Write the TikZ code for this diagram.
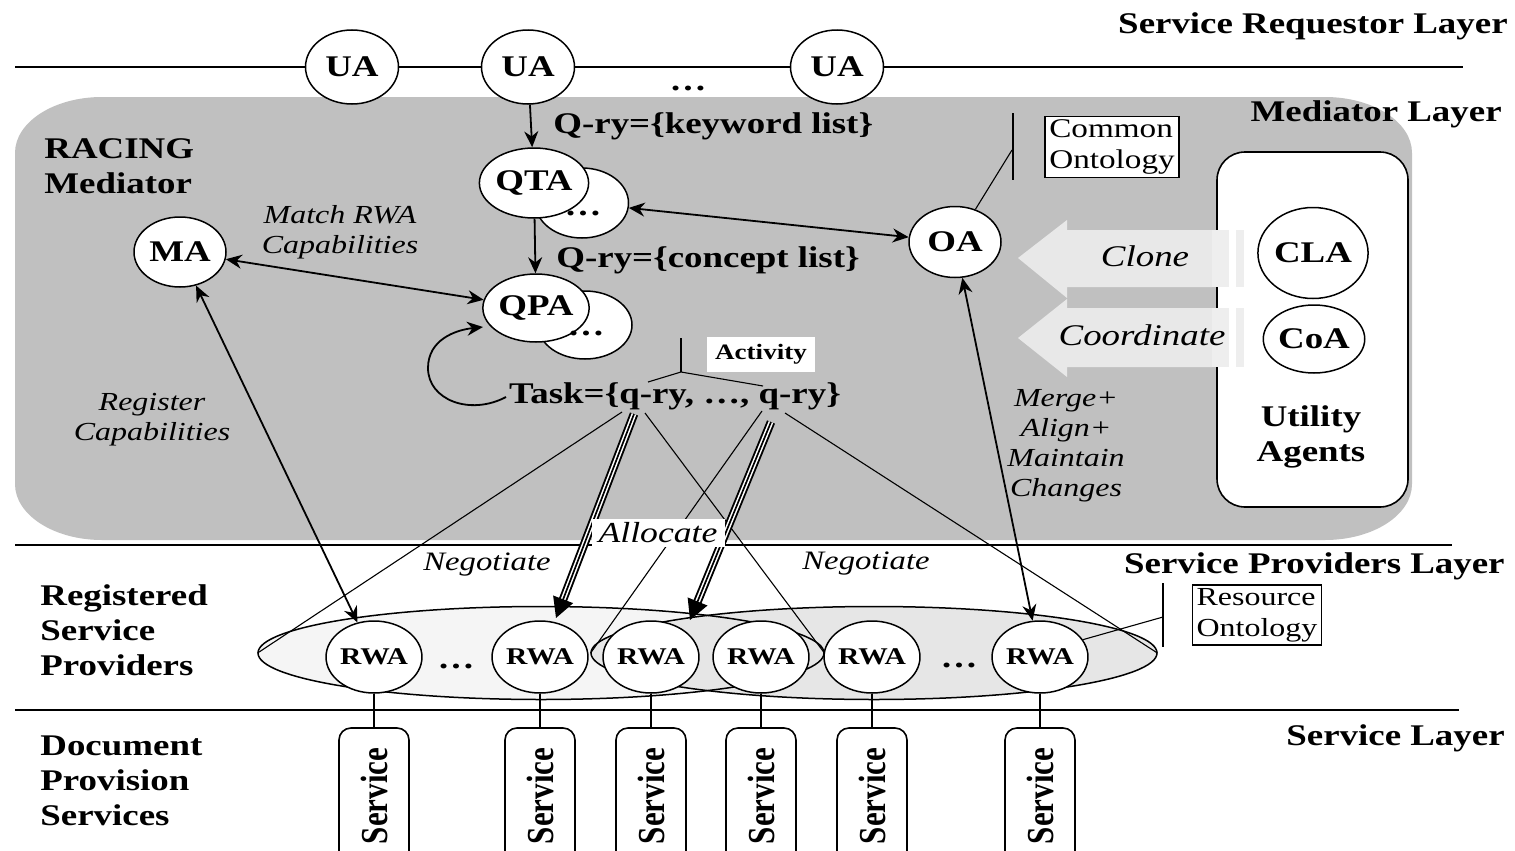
\documentclass[tikz,border=0pt]{standalone}
\usepackage{graphicx}
\usepackage{fontspec}
\setmainfont{Liberation Serif}[FakeStretch=1.23]
\newfontfamily\plainserif{Liberation Serif}
\usetikzlibrary{shapes.geometric,arrows.meta,calc}
\newcommand\setfs[2]{\fontsize{#1}{#2}\selectfont}
\definecolor{medgray}{HTML}{C0C0C0}
\definecolor{bigarrow}{HTML}{E8E8E8}
\definecolor{arrowband}{HTML}{EEEEEE}
\definecolor{grpleft}{HTML}{F5F5F5}
\definecolor{grpright}{HTML}{E6E6E6}

\begin{document}
\begin{tikzpicture}[x=0.5pt,y=-0.5pt,
  agent/.style={ellipse,draw,fill=white,line width=0.75pt,inner sep=0pt,
    font={\bfseries\setfs{15pt}{17pt}}},
  rwa/.style={agent,minimum width=46pt,minimum height=36pt,
    font={\bfseries\setfs{12pt}{14pt}}},
  rule/.style={line width=1pt},
  link/.style={line width=0.9pt},
  biarrow/.style={link,{Stealth[length=8pt,width=7pt]}-{Stealth[length=8pt,width=7pt]}},
  uniarrow/.style={link,-{Stealth[length=8pt,width=7pt]}},
  thinline/.style={line width=0.55pt},
  boldlabel/.style={font={\bfseries\setfs{15pt}{17.5pt}},inner sep=0pt,align=left},
  itlabel/.style={font={\itshape\setfs{13pt}{15pt}},inner sep=0pt,align=center},
  dots/.style={font={\bfseries\setfs{15pt}{17pt}},inner sep=0pt,anchor=base},
  svcbox/.style={draw,fill=white,rounded corners=6pt,line width=0.8pt,
    minimum width=35pt,minimum height=68pt,inner sep=0pt},
  ontobox/.style={draw,fill=white,line width=0.8pt,align=left,inner xsep=2pt,inner ysep=1.5pt,
    font={\setfs{13.5pt}{15.5pt}}},
  allocouter/.style={line width=0.95pt,double=white,double distance=2.4pt,shorten >=9pt},
  allocinner/.style={line width=0.85pt,-{Triangle[length=10pt,width=10.5pt]}}
]
\useasboundingbox (0,0) rectangle (1515,851);
\clip (0,0) rectangle (1515,851);
\fill[white] (0,0) rectangle (1515,851);

% ---------- mediator panel ----------
\fill[medgray] (102,97) -- (1325,97) .. controls (1373,97) and (1412,122) .. (1412,153)
  -- (1412,484) .. controls (1412,515) and (1373,540) .. (1325,540)
  -- (102,540) .. controls (54,540) and (15,515) .. (15,484)
  -- (15,153) .. controls (15,122) and (54,97) .. (102,97) -- cycle;

% ---------- layer rules ----------
\coordinate (ruleA1) at (15,67);  \coordinate (ruleA2) at (1463,67);
\coordinate (ruleB1) at (15,545); \coordinate (ruleB2) at (1452,545);
\coordinate (ruleC1) at (15,710); \coordinate (ruleC2) at (1459,710);
\draw[rule] (ruleA1) -- (ruleA2);
\draw[rule] (ruleB1) -- (ruleB2);
\draw[rule] (ruleC1) -- (ruleC2);

% ---------- layer titles ----------
\node[boldlabel,anchor=base east] (tReq) at (1508,33) {Service Requestor Layer};
\node[boldlabel,anchor=base east] (tMed) at (1502,121) {Mediator Layer};
\node[boldlabel,anchor=base east] (tProv) at (1505,573) {Service Providers Layer};
\node[boldlabel,anchor=base east] (tSvc) at (1505,745) {Service Layer};
\node[boldlabel,anchor=west] (tRacing) at (44,166) {RACING\\Mediator};
\node[boldlabel,anchor=west] (tReg) at (40,630) {Registered\\Service\\Providers};
\node[boldlabel,anchor=west] (tDoc) at (40,781) {Document\\Provision\\Services};

% ---------- utility agents ----------
\node[draw,fill=white,rounded corners=14pt,line width=0.8pt,minimum width=95.5pt,
  minimum height=177.5pt] (util) at (1312.5,329.5) {};
\node[boldlabel,align=center,anchor=center] (utilTxt) at (1311,437) {Utility\\Agents};

% clone / coordinate block arrows
\fill[bigarrow] (1018,258) -- (1067,220) -- (1067,230) -- (1212,230) -- (1212,287)
  -- (1067,287) -- (1067,298) -- cycle;
\fill[arrowband] (1212,230) rectangle (1229,287);
\fill[arrowband] (1236,230) rectangle (1244,287);
\fill[bigarrow] (1018,338) -- (1067,299) -- (1067,308) -- (1212,308) -- (1212,367)
  -- (1067,367) -- (1067,377) -- cycle;
\fill[arrowband] (1212,308) rectangle (1229,367);
\fill[arrowband] (1236,308) rectangle (1244,367);
\node[font={\itshape\setfs{15pt}{17pt}},inner sep=0pt,anchor=base] (lClone) at (1145,266) {Clone};
\node[font={\itshape\setfs{15pt}{17pt}},inner sep=0pt,anchor=base] (lCoord) at (1142,345) {Coordinate};

\node[agent,minimum width=55pt,minimum height=45.5pt] (cla) at (1313,253) {CLA};
\node[agent,minimum width=45.5pt,minimum height=34pt] (coa) at (1314,339) {CoA};

% ---------- requestor agents ----------
\node[agent,minimum width=46.5pt,minimum height=37pt] (ua1) at (352,67) {UA};
\node[agent,minimum width=46.5pt,minimum height=37pt] (ua2) at (528,67) {UA};
\node[agent,minimum width=46.5pt,minimum height=37pt] (ua3) at (837,67) {UA};
\node[dots] (uadots) at (688,90) {\dots};

% ---------- mediator agents ----------
\node[agent,minimum width=46.5pt,minimum height=35pt] (qtab) at (582,203) {};
\node[agent,minimum width=46pt,minimum height=35pt] (qta) at (534,183) {QTA};
\node[agent,minimum width=47pt,minimum height=34pt] (qpab) at (585,325) {};
\node[agent,minimum width=46pt,minimum height=34pt] (qpa) at (536,308) {QPA};
\node[dots] (qtadots) at (583,215) {\dots};
\node[dots] (qpadots) at (586,335) {\dots};
\node[agent,minimum width=46pt,minimum height=35pt] (ma) at (180,252) {MA};
\node[agent,minimum width=46pt,minimum height=35.5pt] (oa) at (955,242) {OA};

\node[ontobox] (common) at (1112,147) {Common\\Ontology};
\coordinate (cobarT) at (1013,113); \coordinate (cobarB) at (1013,180);
\coordinate (cobarM) at (1012,150);
\draw[thinline] (cobarT) -- (cobarB);
\draw[thinline] (oa.58) -- (cobarM);

% query labels
\node[font={\bfseries\setfs{15pt}{17pt}},inner sep=0pt,anchor=base west] (qkey) at (553,133) {Q-ry=\{keyword list\}};
\node[font={\bfseries\setfs{15pt}{17pt}},inner sep=0pt,anchor=base west] (qcon) at (556,267) {Q-ry=\{concept list\}};
\node[font={\bfseries\setfs{15pt}{17pt}},inner sep=0pt,anchor=base] (task) at (675,403) {Task=\{q-ry, \dots, q-ry\}};

% activity bracket
\node[fill=white,font={\bfseries\setfs{11pt}{13pt}},minimum width=54pt,minimum height=17.5pt,inner sep=0pt] (act) at (761,354) {Activity};
\coordinate (actTop) at (681,338); \coordinate (actJoin) at (681,372);
\coordinate (actL) at (648,382);   \coordinate (actR) at (763,386);
\draw[thinline] (actTop) -- (actJoin);
\draw[thinline] (actL) -- (actJoin) -- (actR);

% italic edge labels
\node[itlabel] (lMatch) at (340,232) {Match RWA\\Capabilities};
\node[itlabel] (lRegister) at (152,420) {Register\\Capabilities};
\node[itlabel] (lMerge) at (1066,446) {Merge+\\Align+\\Maintain\\Changes};

% ---------- provider groups ----------
\node[ellipse,fill=grpleft,minimum width=283pt,minimum height=46.5pt,inner sep=0pt] (grpL) at (541,653) {};
\node[ellipse,fill=grpright,minimum width=283pt,minimum height=46.5pt,inner sep=0pt] (grpR) at (874,653) {};
\node[ellipse,draw,line width=0.75pt,minimum width=283pt,minimum height=46.5pt,inner sep=0pt] (grpLo) at (541,653) {};
\node[ellipse,draw,line width=0.75pt,minimum width=283pt,minimum height=46.5pt,inner sep=0pt] (grpRo) at (874,653) {};

\node[rwa] (rwa1) at (374,657) {RWA};
\node[rwa] (rwa2) at (540,657) {RWA};
\node[rwa] (rwa3) at (651,657) {RWA};
\node[rwa] (rwa4) at (761,657) {RWA};
\node[rwa] (rwa5) at (872,657) {RWA};
\node[rwa] (rwa6) at (1040,657) {RWA};
\node[dots] (rwadotsA) at (456,668) {\dots};
\node[dots] (rwadotsB) at (959,667) {\dots};

\node[ontobox,font={\setfs{13pt}{15.5pt}}] (resource) at (1257,615) {Resource\\Ontology};
\coordinate (robarT) at (1163,583); \coordinate (robarB) at (1163,647);
\coordinate (robarM) at (1163,617);
\draw[thinline] (robarT) -- (robarB);
\draw[thinline] (rwa6.22) -- (robarM);

% ---------- services ----------
\foreach \n/\x in {1/374,2/540,3/651,4/761,5/872,6/1040}{
  \node[svcbox] (svc\n) at (\x,796)
    {\rotatebox{90}{\scalebox{1}[1.23]{\plainserif\bfseries\setfs{15.5pt}{17pt}Service}}};
  \draw[line width=0.7pt] (rwa\n) -- (svc\n);
}

% ---------- connectors ----------
\draw[uniarrow] (ua2) -- (qta);
\draw[uniarrow] (qta) -- (qpa);
\draw[biarrow] (qtab) -- (oa);
\draw[biarrow] (ma) -- (qpa);
\draw[biarrow] (ma) -- (rwa1);
\draw[biarrow] (oa) -- (rwa6);

% task re-planning loop
\coordinate (loopS) at (506,397);
\coordinate (loopE) at (483,327);
\draw[link,-{Stealth[length=8pt,width=7pt]}] (loopS) .. controls (470,416) and (428,400) .. (428,368)
  .. controls (428,340) and (455,330) .. (loopE);

% negotiation cones
\coordinate (ng1) at (622,412); \coordinate (ng2) at (645,413);
\coordinate (ng3) at (762,411); \coordinate (ng4) at (785,413);
\draw[thinline] (ng1) -- (grpL.west);
\draw[thinline] (ng2) -- (grpL.east);
\draw[thinline] (ng3) -- (grpR.west);
\draw[thinline] (ng4) -- (grpR.east);

% allocation arrows
\coordinate (al1s) at (634,414); \coordinate (al1e) at (556,618);
\coordinate (al2s) at (771,422); \coordinate (al2e) at (690,620);
\draw[allocouter] (al1s) -- (al1e);
\draw[allocinner] (al1s) -- (al1e);
\draw[allocouter] (al2s) -- (al2e);
\draw[allocinner] (al2s) -- (al2e);

\node[fill=white,font={\itshape\setfs{14.5pt}{16pt}},minimum width=66.5pt,minimum height=14pt,inner sep=0pt] (alloc) at (658,533) {Allocate};
\node[font={\itshape\setfs{13.3pt}{15pt}},inner sep=0pt,anchor=base] (neg1) at (487,570) {Negotiate};
\node[font={\itshape\setfs{13.3pt}{15pt}},inner sep=0pt,anchor=base] (neg2) at (866,569) {Negotiate};
\end{tikzpicture}
\end{document}
